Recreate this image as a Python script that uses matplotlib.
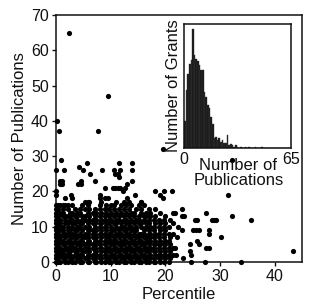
import matplotlib
matplotlib.use("Agg")
import matplotlib.pyplot as plt

plt.rcParams['font.family'] = ['Liberation Sans', 'DejaVu Sans']

# Dense cloud: percentile columns and the publication counts seen in each
col_pct = [0.0, 0.4, 0.7, 1.3, 1.6, 2.2, 2.6, 2.9, 3.5, 3.8, 4.4, 4.7, 5.3, 5.8,
           6.0, 6.7, 7.1, 7.4, 8.0, 8.3, 8.9, 9.2, 9.8, 10.1, 10.7, 11.0, 11.6,
           11.9, 12.5, 12.8, 13.4, 13.7, 14.3, 14.6, 15.2, 15.5, 16.1, 16.4,
           17.0, 17.3, 17.9, 18.2, 18.8, 19.1, 19.7, 20.0, 20.6, 20.9, 21.5]
col_pubs = [
    [0, 1, 2, 3, 4, 5, 6, 7, 8, 9, 10, 11, 12, 13, 14, 15, 16],
    [0, 1, 3, 4, 5, 7, 8, 9, 11, 12, 13, 15, 16],
    [0, 2, 3, 4, 6, 7, 9, 10, 11, 12, 14, 16],
    [1, 2, 3, 5, 6, 8, 9, 10, 13, 14, 15, 16],
    [0, 1, 2, 4, 5, 7, 8, 11, 12, 13, 16],
    [0, 2, 3, 4, 6, 8, 9, 10, 11, 13, 15, 16],
    [1, 2, 3, 5, 6, 7, 9, 12, 13, 14],
    [0, 1, 4, 5, 7, 8, 10, 11, 12, 14, 16],
    [0, 2, 3, 4, 6, 7, 8, 9, 11, 13, 15],
    [1, 2, 3, 5, 7, 9, 10, 12, 13, 14],
    [0, 1, 2, 4, 5, 6, 8, 10, 11, 14, 15],
    [0, 2, 3, 5, 6, 7, 9, 11, 12, 13, 16],
    [1, 3, 4, 5, 7, 8, 10, 12, 13, 15, 17],
    [0, 1, 2, 4, 6, 7, 8, 9, 11, 14, 16, 17],
    [0, 2, 3, 5, 6, 9, 10, 12, 13, 15],
    [1, 2, 4, 5, 7, 8, 9, 11, 12, 14],
    [0, 1, 3, 4, 6, 8, 10, 11, 13, 15],
    [0, 2, 3, 5, 6, 7, 9, 12, 14],
    [1, 2, 4, 5, 6, 8, 10, 11, 13, 15, 16, 18],
    [0, 1, 3, 4, 7, 8, 9, 11, 12, 14, 17],
    [0, 2, 3, 5, 6, 8, 10, 12, 13, 15, 18],
    [1, 2, 4, 5, 7, 9, 10, 11, 14, 16],
    [0, 1, 3, 4, 6, 7, 8, 11, 12, 13, 15],
    [0, 2, 3, 5, 6, 8, 9, 10, 12, 14, 16],
    [1, 2, 4, 5, 6, 7, 9, 11, 13, 15, 16],
    [0, 1, 3, 4, 6, 8, 10, 11, 12, 14, 17],
    [0, 2, 3, 5, 7, 8, 9, 12, 13, 15],
    [1, 2, 4, 5, 6, 8, 10, 11, 14, 16],
    [0, 1, 3, 5, 6, 7, 9, 10, 12, 13, 15, 17],
    [0, 2, 3, 4, 6, 8, 9, 11, 12, 14, 16],
    [1, 2, 4, 5, 7, 8, 10, 11, 13, 15, 17],
    [0, 1, 3, 4, 6, 7, 9, 10, 12, 14, 16],
    [0, 2, 3, 5, 6, 8, 9, 11, 13, 14],
    [1, 2, 4, 5, 7, 9, 10, 12, 15],
    [0, 1, 3, 4, 6, 7, 8, 11, 12, 13, 16],
    [0, 2, 3, 5, 6, 8, 10, 11, 14, 15, 17],
    [1, 2, 4, 5, 7, 8, 9, 12, 13, 16],
    [0, 1, 3, 4, 6, 7, 10, 11, 13, 14],
    [0, 2, 3, 5, 6, 8, 9, 11, 12, 15],
    [1, 2, 4, 6, 7, 8, 10, 13, 14],
    [0, 1, 3, 4, 5, 7, 9, 10, 12],
    [0, 2, 3, 5, 6, 8, 11, 13, 15],
    [1, 2, 4, 5, 7, 8, 10, 12],
    [0, 1, 2, 3, 5, 6, 9, 11, 14],
    [0, 2, 4, 5, 7, 8, 10, 12],
    [1, 2, 3, 5, 6, 9, 11, 13],
    [0, 2, 4, 6, 8, 10],
    [1, 3, 5, 7, 12],
    [2, 4, 8],
]

# Sparse points outside the dense cloud
extra_pct = [2.4, 9.6, 0.25, 0.5, 7.7, 0.9, 0.0, 1.5, 0.8, 1.2, 0.7, 1.1, 2.7, 1.7,
             0.0, 0.0, 4.3, 5.0, 5.7, 6.2, 4.0, 4.5, 4.6, 7.1, 8.5, 9.0, 8.0, 11.5,
             10.6, 10.9, 11.3, 11.7, 11.6, 10.5, 10.9, 11.3, 11.7, 12.3, 13.0, 12.7,
             14.0, 14.0, 14.0, 14.5, 18.2, 19.0, 19.5, 19.8, 21.2, 31.5, 32.2, 35.6,
             43.4, 33.8, 30.2, 27.5, 28.5, 28.9, 29.2, 28.0, 28.0, 27.5, 28.0, 25.4,
             25.8, 23.0, 21.4, 21.8, 23.1, 23.4, 23.0, 25.0, 25.6, 26.2, 22.1, 24.5,
             25.8, 26.1, 23.3, 24.5, 24.8, 27.2, 24.8, 22.0, 21.8, 22.3, 21.5, 32.3,
             19.6, 3.0, 6.0, 9.5, 15.5, 13.0]
extra_pubs = [65, 47, 40, 37, 37, 29, 26, 26, 23, 23, 22, 22, 19, 18,
              19, 20, 27, 26, 28, 25, 22, 22, 23, 23, 26, 21, 19, 28,
              26, 25, 25, 26, 24, 21, 21, 21, 21, 20, 22, 21,
              28, 26, 23, 19, 20, 19, 18, 20, 20, 19, 13, 12,
              3, 0, 7, 14, 12, 12, 12, 9, 8, 4, 4, 12,
              12, 15, 14, 14, 13, 13, 9, 9, 9, 9, 7, 5,
              6, 5, 1, 3, 2, 0, 0, 2, 4, 10, 11, 29,
              32, 18, 17, 18, 17, 18]

# Inset histogram: counts per 1-publication bin, 0..65
hist_counts = [22, 47, 60, 68, 71, 96, 75, 72, 70, 67, 63, 63, 45, 41, 35, 32,
               25, 19, 8, 9, 6, 8, 5, 6, 4, 4, 10, 2, 3, 2, 1, 2, 1, 0, 1, 0,
               0, 1, 0, 1, 0, 0, 0, 1, 0, 0, 0, 1, 0, 0, 0, 0, 0, 0, 0, 0,
               0, 0, 0, 0, 0, 0, 0, 0, 0]

pct = []
pubs = []
for x, ys in zip(col_pct, col_pubs):
    for y in ys:
        pct.append(x)
        pubs.append(y)
pct += extra_pct
pubs += extra_pubs

fig = plt.figure(figsize=(3.25, 3.06), dpi=100)
ax = fig.add_axes([0.172, 0.144, 0.757, 0.807])
ax.scatter(pct, pubs, s=14, c='black', linewidths=0, clip_on=False, zorder=3)
ax.set_xlim(0, 45)
ax.set_ylim(0, 70)
ax.set_xticks([0, 10, 20, 30, 40])
ax.set_yticks([0, 10, 20, 30, 40, 50, 60, 70])
ax.tick_params(direction='out', length=3, width=1, labelsize=11.5,
               colors='#111111', pad=2)
for s in ax.spines.values():
    s.set_linewidth(1.1)
    s.set_color('#111111')
ax.set_xlabel('Percentile', fontsize=12, color='#111111', labelpad=2)
ax.set_ylabel('Number of Publications', fontsize=12, color='#111111', labelpad=3)

ins = fig.add_axes([0.566, 0.517, 0.329, 0.404])
ins.set_facecolor('white')
ins.bar(range(len(hist_counts)), hist_counts, width=1.0, align='edge',
        color='#151515', edgecolor='#3a3a3a', linewidth=0.3)
ins.set_xlim(0, 65)
ins.set_ylim(0, 100)
ins.set_yticks([])
ins.set_xticks([0, 65])
ins.set_xticklabels(['0', '65'], fontsize=11.5, color='#111111')
ins.tick_params(axis='x', length=0, pad=3)
for s in ins.spines.values():
    s.set_linewidth(1.1)
    s.set_color('#111111')
ins.set_ylabel('Number of Grants', fontsize=12, color='#111111', labelpad=2)
ins.text(0.51, -0.08, 'Number of\nPublications', transform=ins.transAxes,
         ha='center', va='top', fontsize=12, color='#111111', linespacing=1.05)

fig.savefig('out.png', dpi=100)
